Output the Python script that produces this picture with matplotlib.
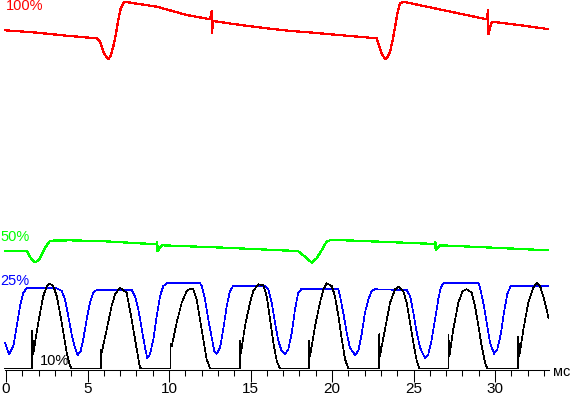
import matplotlib
matplotlib.use("Agg")
import matplotlib.pyplot as plt
from matplotlib import font_manager

# ---------------- data (time in ms, level in arbitrary screen units) ----------------
red_t = [-0.05, 1.67, 3.72, 5.56, 5.77, 5.87, 6.01, 6.18, 6.28, 6.42, 6.58, 6.75, 6.89, 7.04, 7.24,
         9.25, 11.09, 12.52, 12.62, 12.62, 12.72, 13.94, 15.99, 17.32, 18.85, 20.90, 22.74, 22.94,
         23.05, 23.19, 23.25, 23.39, 23.56, 23.72, 23.87, 24.01, 24.17, 24.37, 29.49, 29.59, 29.59,
         29.80, 31.12, 33.23]
red_v = [339.2, 337.2, 333.8, 331.2, 327.8, 322.8, 316.2, 312.2, 310.5, 313.5, 322.8, 336.2, 349.5,
         361.2, 367.8, 362.8, 354.5, 350.2, 358.5, 336.2, 348.5, 345.5, 341.2, 338.8, 336.8, 333.8,
         331.2, 321.2, 316.2, 312.2, 310.5, 312.2, 317.8, 329.5, 342.8, 356.2, 366.2, 367.8, 350.2,
         359.5, 335.2, 347.8, 345.2, 340.5]

green_t = [-0.05, 1.29, 1.47, 1.63, 1.78, 1.93, 2.09, 2.39, 2.70, 3.93, 6.07, 9.26, 9.28, 9.30, 9.57,
           13.13, 17.42, 17.91, 18.45, 18.75, 19.06, 19.37, 19.67, 19.88, 20.80, 24.17, 26.32, 26.34,
           26.36, 26.63, 30.31, 33.25]
green_v = [118.8, 118.5, 112.8, 109.5, 107.2, 108.5, 111.5, 121.5, 128.8, 129.2, 128.2, 125.2, 127.5,
           118.5, 124.2, 122.0, 118.8, 118.5, 111.5, 106.8, 111.2, 119.5, 127.8, 129.2, 129.2, 127.0,
           125.5, 127.5, 119.5, 124.2, 121.5, 119.2]

blue_t = [-0.05, 0.18, 0.45, 0.66, 0.86, 1.06, 1.27, 3.11, 3.42, 3.62, 3.82, 4.03, 4.23, 4.40, 4.58,
          4.74, 4.95, 5.15, 5.36, 5.56, 7.71, 7.91, 8.12, 8.33, 8.53, 8.67, 8.83, 9.04, 9.25, 9.45,
          9.65, 9.86, 11.90, 12.01, 12.21, 12.41, 12.62, 12.78, 12.93, 13.13, 13.33, 13.54, 13.74,
          13.94, 15.89, 16.09, 16.30, 16.50, 16.71, 16.91, 17.12, 17.32, 17.53, 17.73, 17.93, 18.14,
          20.37, 20.49, 20.69, 20.90, 21.10, 21.41, 21.61, 21.82, 22.02, 22.23, 22.44, 22.64, 24.58,
          24.79, 24.99, 25.20, 25.40, 25.71, 25.91, 26.12, 26.32, 26.52, 26.67, 26.83, 28.98, 29.08,
          29.28, 29.49, 29.69, 29.94, 30.14, 30.35, 30.55, 30.75, 30.96, 33.25]
blue_v = [26.8, 15.2, 23.5, 43.5, 63.5, 76.8, 81.2, 81.2, 78.5, 70.2, 53.5, 35.2, 21.8, 14.5, 18.5,
          30.2, 50.2, 66.8, 76.8, 79.5, 79.5, 73.5, 60.2, 40.2, 21.8, 11.2, 15.2, 30.2, 53.5, 73.5,
          83.5, 86.2, 86.2, 83.5, 70.2, 50.2, 31.8, 18.5, 15.8, 21.8, 40.2, 63.5, 78.5,
          83.5, 83.5, 80.2, 66.8, 46.8, 28.5, 18.5, 15.2, 20.2, 36.8, 60.2, 76.8, 80.8,
          80.8, 73.5, 56.8, 36.8, 21.8, 14.5, 18.5, 35.2, 56.8, 70.2, 78.5, 80.2, 79.5,
          73.5, 56.8, 36.8, 21.8, 11.2, 15.2, 30.2, 50.2, 70.2, 81.8, 86.2, 86.2, 81.8,
          66.8, 46.8, 26.8, 15.8, 20.2, 35.2, 56.8, 75.2, 83.5, 83.5]

black_t = [-0.05, 1.61, 1.61, 1.67, 1.88, 2.09, 2.29, 2.50, 2.66, 2.90, 3.11, 3.31, 3.52, 3.72, 3.93, 4.03,
           5.81, 5.81, 5.87, 6.18, 6.48, 6.69, 6.99, 7.40, 7.71, 8.02, 8.22, 8.33,
           10.10, 10.10, 10.17, 10.47, 10.78, 11.09, 11.29, 11.49, 11.70, 11.90, 12.10, 12.31, 12.52,
           14.36, 14.36, 14.42, 14.66, 14.97, 15.17, 15.48, 15.79, 15.99, 16.20, 16.40, 16.61, 16.81,
           18.59, 18.59, 18.65, 18.96, 19.26, 19.47, 19.67, 19.98, 20.18, 20.39, 20.60, 20.80, 21.00,
           22.90, 22.90, 22.94, 23.25, 23.56, 23.87, 24.07, 24.37, 24.58, 24.79, 24.99, 25.20, 25.36,
           27.14, 27.14, 27.20, 27.44, 27.75, 28.02, 28.26, 28.57, 28.77, 28.98, 29.18, 29.39, 29.53,
           31.43, 31.43, 31.49, 31.74, 32.04, 32.35, 32.56, 32.76, 32.96, 33.17, 33.27]
black_v = [1, 1, 38.5, 15.2, 36.8, 56.8, 73.5, 83.5, 86.2, 83.5, 73.5, 56.8, 36.8, 16.8, 3.5, 1,
           1, 19.5, 16.8, 40.2, 63.5, 75.2, 81.8, 76.8, 50.2, 20.2, 1.8, 1,
           1, 25.2, 23.5, 46.8, 66.8, 78.5, 80.8, 80.2, 70.2, 50.2, 30.2, 10.2, 1,
           1, 28.5, 16.8, 43.5, 66.8, 78.5, 85.2, 84.2, 73.5, 50.2, 26.8, 8.5, 1,
           1, 28.5, 13.5, 43.5, 66.8, 80.2, 86.2, 83.5, 73.5, 53.5, 30.2, 10.2, 1,
           1, 35.2, 13.5, 40.2, 66.8, 80.2, 82.8, 78.5, 66.8, 46.8, 26.8, 8.5, 1,
           1, 34.2, 13.5, 40.2, 66.8, 78.5, 80.2, 76.8, 63.5, 43.5, 23.5, 6.8, 1,
           1, 32.8, 13.5, 40.2, 66.8, 81.8, 86.8, 83.5, 73.5, 60.2, 51.8]

series_labels = ["100%", "50%", "25%", "10%"]
series_colors = ["#ff0000", "#00ff00", "#0000ff", "#000000"]
major_ticks = [0, 5, 10, 15, 20, 25, 30]
minor_ticks = list(range(0, 34))
unit_label = "мс"

# ---------------- fonts ----------------
avail = {f.name for f in font_manager.fontManager.ttflist}
fam = [f for f in ["Liberation Sans Narrow", "Liberation Sans", "DejaVu Sans"] if f in avail]
plt.rcParams["font.family"] = fam

# ---------------- figure ----------------
fig = plt.figure(figsize=(5.70, 3.96), dpi=100)
ax = fig.add_axes([0, 0, 1, 1])
ax.set_xlim(-0.368, 34.60)
ax.set_ylim(-26.5, 369.5)

ax.plot(red_t, red_v, color=series_colors[0], lw=0.9, antialiased=False)
ax.plot(green_t, green_v, color=series_colors[1], lw=0.9, antialiased=False)
ax.plot(blue_t, blue_v, color=series_colors[2], lw=0.5, antialiased=False)
ax.plot(black_t, black_v, color=series_colors[3], lw=0.5, antialiased=False)

fs = 10.5
ax.text(-0.03, 359.5, series_labels[0], color=series_colors[0], fontsize=fs, va="baseline", ha="left")
ax.text(-0.37, 128.5, series_labels[1], color=series_colors[1], fontsize=fs, va="baseline", ha="left")
ax.text(-0.37, 84.5, series_labels[2], color=series_colors[2], fontsize=fs, va="baseline", ha="left")
ax.text(2.07, 4.5, series_labels[3], color=series_colors[3], fontsize=fs, va="baseline", ha="left")
ax.text(33.55, -6.5, unit_label, color="black", fontsize=10.5, va="baseline", ha="left")

for s in ["top", "left", "right"]:
    ax.spines[s].set_visible(False)
ax.spines["bottom"].set_position(("data", 0))
ax.spines["bottom"].set_bounds(-0.06, 33.3)
ax.spines["bottom"].set_linewidth(0.75)
ax.set_yticks([])
ax.set_xticks(major_ticks)
ax.set_xticklabels([str(v) for v in major_ticks])
ax.set_xticks(minor_ticks, minor=True)
ax.tick_params(axis="x", which="major", direction="out", length=8.3, width=0.75, pad=1, labelsize=11)
ax.tick_params(axis="x", which="minor", direction="out", length=4.5, width=0.75)
ax.patch.set_visible(False)

fig.savefig("out.png", dpi=100)
